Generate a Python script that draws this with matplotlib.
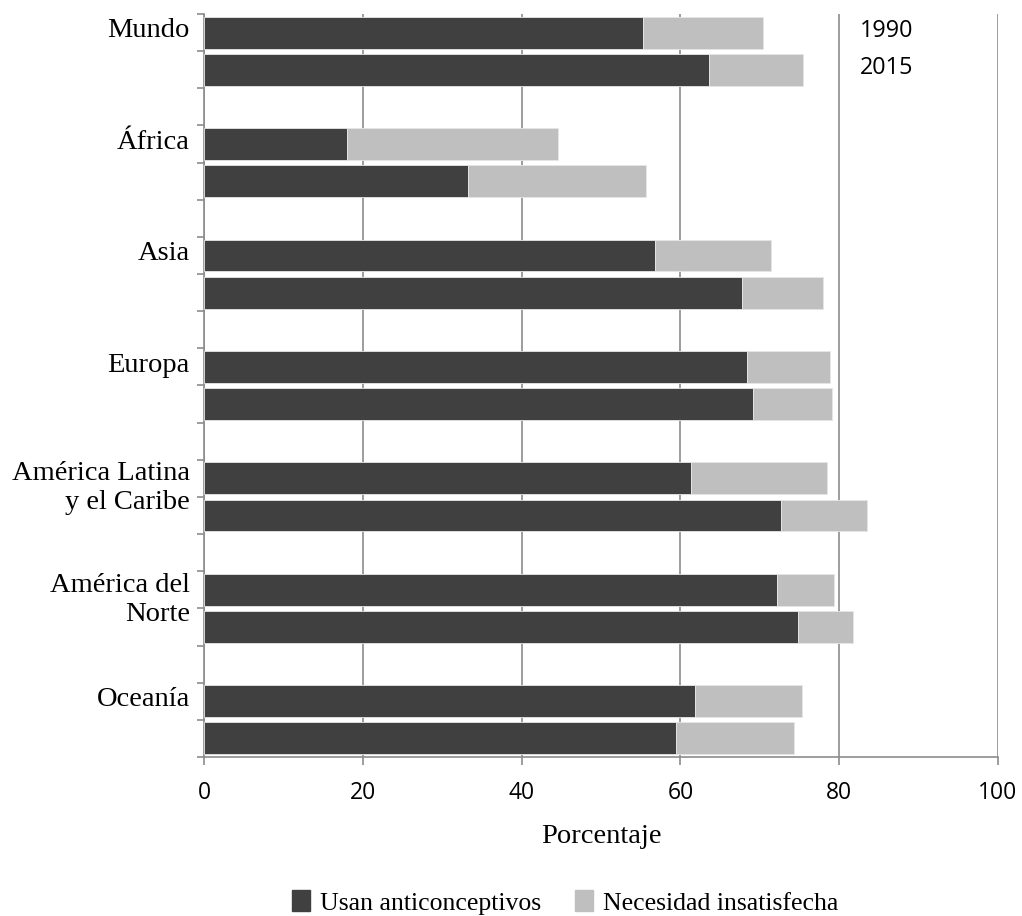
import matplotlib.pyplot as plt
from matplotlib.patches import Patch
import numpy as np

regions = ["Mundo", "África", "Asia", "Europa", "América Latina\ny el Caribe",
           "América del\nNorte", "Oceanía"]
years = ["1990", "2015"]
# values per region: [1990, 2015]
usan = [[55.3, 63.6], [18.0, 33.3], [56.8, 67.8], [68.4, 69.2],
        [61.3, 72.7], [72.2, 74.8], [61.9, 59.5]]
total = [[70.4, 75.5], [44.6, 55.7], [71.4, 78.0], [78.9, 79.1],
         [78.5, 83.5], [79.4, 81.7], [75.3, 74.3]]

dark = "#404040"
light = "#bfbfbf"
grid_c = "#8c8c8c"
serif = ["Liberation Serif", "DejaVu Serif"]
sans = ["Open Sans", "DejaVu Sans"]

fig = plt.figure(figsize=(10.22, 9.16), dpi=100)
ax = fig.add_axes([0.1996, 0.1736, 0.7769, 0.8111])

usan = np.array(usan)
total = np.array(total)
necesidad = total - usan
pos = np.array([[3 * i, 3 * i + 1] for i in range(len(regions))])

ax.barh(pos.ravel(), usan.ravel(), height=0.86, color=dark,
        edgecolor="#e6e6e6", linewidth=0.6, zorder=3)
ax.barh(pos.ravel(), necesidad.ravel(), left=usan.ravel(), height=0.86,
        color=light, edgecolor="#e6e6e6", linewidth=0.6, zorder=3)

ax.set_xlim(0, 100)
ax.set_ylim(19.5, -0.5)
ax.set_xticks(np.arange(0, 101, 20))
ax.set_yticks(np.arange(-0.5, 20, 1.0))
ax.set_yticklabels([])
ax.tick_params(axis="y", length=5, width=1.2, color=grid_c, direction="out")
ax.tick_params(axis="x", length=6, width=1.2, color=grid_c, pad=11,
               labelsize=16.5)
for lab in ax.get_xticklabels():
    lab.set_family(sans)

ax.grid(axis="x", color=grid_c, linewidth=1.2, zorder=0)
ax.grid(axis="y", visible=False)
for s in ["top", "right"]:
    ax.spines[s].set_visible(False)
for s in ["left", "bottom"]:
    ax.spines[s].set_color(grid_c)
    ax.spines[s].set_linewidth(1.2)

for i, name in enumerate(regions):
    yc = 3 * i - 0.05 if "\n" not in name else 3 * i + 0.27
    ax.text(-1.8, yc, name, ha="right", va="center", fontsize=20.5,
            family=serif, linespacing=1.22, transform=ax.transData,
            clip_on=False)

for j, yr in enumerate(years):
    ax.text(82.6, j - 0.05, yr, ha="left", va="center", fontsize=16.8,
            family=sans)

ax.set_xlabel("Porcentaje", fontsize=20.5, family=serif, labelpad=14)

handles = [Patch(color=dark), Patch(color=light)]
fig.legend(handles, ["Usan anticonceptivos", "Necesidad insatisfecha"],
           loc="center", bbox_to_anchor=(0.553, 0.015), ncol=2,
           frameon=False, prop={"family": serif, "size": 18.5},
           handlelength=0.7, handleheight=0.9, handletextpad=0.4,
           columnspacing=1.3)

fig.savefig("out.png", dpi=100)
